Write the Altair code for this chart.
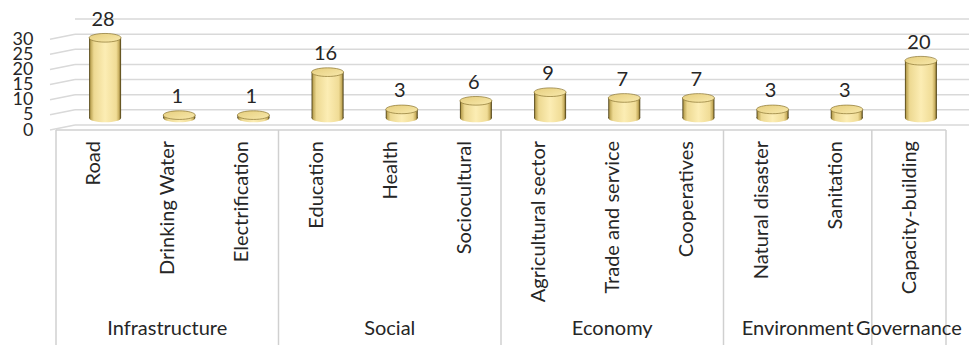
import altair as alt
import pandas as pd

categories = ["Road", "Drinking Water", "Electrification", "Education", "Health",
              "Sociocultural", "Agricultural sector", "Trade and service", "Cooperatives",
              "Natural disaster", "Sanitation", "Capacity-building"]
values = [28, 1, 1, 16, 3, 6, 9, 7, 7, 3, 3, 20]
groups = ["Infrastructure", "Social", "Economy", "Environment", "Governance"]
group_sizes = [3, 3, 3, 2, 1]
grid_values = [0, 5, 10, 15, 20, 25, 30, 35]
axis_labels = [0, 5, 10, 15, 20, 25, 30]

FONT = "Lato"
TXT = "#262626"

n_cat = len(categories)
bars_df = pd.DataFrame({"cat": categories, "value": values,
                        "pos": [i + 0.5 for i in range(n_cat)],
                        "zero": [0] * n_cat})
seps, centers, s = [0], [], 0
for n in group_sizes:
    centers.append(s + n / 2)
    s += n
    seps.append(s)
groups_df = pd.DataFrame({"group": groups, "c": centers})
seps_df = pd.DataFrame({"s": seps})
front_df = pd.DataFrame({"a": [0], "b": [n_cat]})
grid_df = pd.DataFrame({"v": grid_values})
slant_df = pd.DataFrame({"v": axis_labels})

xs = alt.Scale(domain=[0, n_cat], nice=False, zero=False)
y_grid = alt.Scale(domain=[0, 35], nice=False)
y_bar = alt.Scale(domain=[0, 37], nice=False)

grid_h = alt.Chart(grid_df).mark_rule(color="#D9D9D9", strokeWidth=1.5).encode(
    y=alt.Y("v:Q", scale=y_grid,
            axis=alt.Axis(values=axis_labels, labelOffset=5, labelPadding=18, domain=False,
                          ticks=False, grid=False, title=None, labelFontSize=18,
                          labelFont=FONT, labelColor=TXT, labelOverlap=False)),
    x=alt.value(24), x2=alt.value(918))

grid_s = alt.Chart(slant_df).mark_rule(
    color="#D9D9D9", strokeWidth=1.5, yOffset=5, y2Offset=0).encode(
    y=alt.Y("v:Q", scale=y_grid, axis=None), y2="v:Q", x=alt.value(-1), x2=alt.value(24))

front = alt.Chart(front_df).mark_rule(color="#D0D0D0", strokeWidth=1.5).encode(
    x=alt.X("a:Q", scale=xs, axis=None), x2="b:Q", y=alt.value(111))

sep = alt.Chart(seps_df).mark_rule(color="#D0D0D0", strokeWidth=1.5).encode(
    x=alt.X("s:Q", scale=xs, axis=None), y=alt.value(111), y2=alt.value(326))

body_grad = alt.Gradient(gradient="linear", x1=0, x2=1, y1=0, y2=0, stops=[
    alt.GradientStop(color="#3E320A", offset=0),
    alt.GradientStop(color="#BFA757", offset=0.05),
    alt.GradientStop(color="#EDD992", offset=0.15),
    alt.GradientStop(color="#FCEDB4", offset=0.5),
    alt.GradientStop(color="#F0DC96", offset=0.85),
    alt.GradientStop(color="#C6AC5C", offset=0.94),
    alt.GradientStop(color="#3E320A", offset=1)])
cap_grad = alt.Gradient(gradient="linear", x1=0, x2=1, y1=0, y2=1, stops=[
    alt.GradientStop(color="#E6CE7E", offset=0),
    alt.GradientStop(color="#F8E9AC", offset=1)])

ELL = "M -1 0 A 1 0.27 0 1 1 1 0 A 1 0.27 0 1 1 -1 0 Z"
XO, YO = 12, -7
SZ = 1024

bottom = alt.Chart(bars_df).mark_point(shape=ELL, size=SZ, filled=True, fill=body_grad,
                                       opacity=1, xOffset=XO, yOffset=YO).encode(
    x=alt.X("pos:Q", scale=xs, axis=None), y=alt.Y("zero:Q", scale=y_bar, axis=None))
body = alt.Chart(bars_df).mark_bar(size=32, fill=body_grad, xOffset=XO, yOffset=YO,
                                   y2Offset=YO).encode(
    x=alt.X("pos:Q", scale=xs, axis=None),
    y=alt.Y("value:Q", scale=y_bar, axis=None), y2="zero:Q")
top = alt.Chart(bars_df).mark_point(shape=ELL, size=SZ, filled=True, fill=cap_grad,
                                    stroke="#8A7430", strokeWidth=0.7, opacity=1,
                                    xOffset=XO, yOffset=YO).encode(
    x=alt.X("pos:Q", scale=xs, axis=None), y=alt.Y("value:Q", scale=y_bar, axis=None))
labels = alt.Chart(bars_df).mark_text(font=FONT, fontSize=20, color=TXT, baseline="middle",
                                      xOffset=XO - 2, yOffset=YO - 18).encode(
    x=alt.X("pos:Q", scale=xs, axis=None), y=alt.Y("value:Q", scale=y_bar, axis=None),
    text="value:Q")

cat_text = alt.Chart(bars_df).mark_text(font=FONT, fontSize=20, color=TXT, angle=270,
                                        align="right", baseline="middle", xOffset=1).encode(
    x=alt.X("pos:Q", scale=xs, axis=None), y=alt.value(122), text="cat:N")
grp_text = alt.Chart(groups_df).mark_text(font=FONT, fontSize=20, color=TXT,
                                          align="center", baseline="middle").encode(
    x=alt.X("c:Q", scale=xs, axis=None), y=alt.value(310), text="group:N")

chart = alt.layer(grid_h, grid_s, front, sep, cat_text, grp_text,
                  bottom, body, top, labels).resolve_scale(y="independent").properties(
    width=900, height=106,
    autosize=alt.AutoSizeParams(type="none"),
    padding={"left": 51, "top": 19, "right": 18, "bottom": 220},
    background="white",
).configure_view(stroke=None)

chart.save("out.html", embed_options={"renderer": "svg", "actions": False})
